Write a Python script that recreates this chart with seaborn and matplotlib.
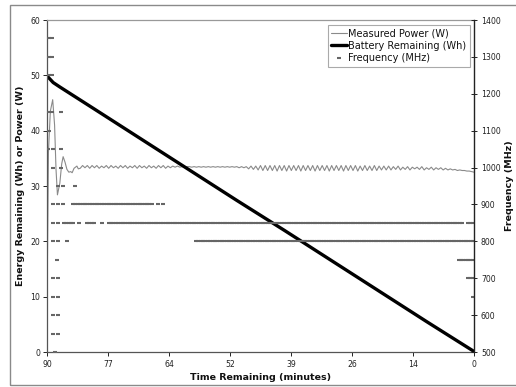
import numpy as np
import pandas as pd
import matplotlib
matplotlib.use("Agg")
import matplotlib.pyplot as plt
import seaborn as sns
from matplotlib.patches import Rectangle
from matplotlib.lines import Line2D

# ---------------- data ----------------
x_tick_labels = ["90", "77", "64", "52", "39", "26", "14", "0"]

battery_time = [90.0, 88.7, 87.3, 80.0, 70.0, 60.0, 50.0, 40.0, 30.0, 20.0, 10.0, 5.0, 0.0]
battery_wh = [49.9, 48.7, 47.9, 43.9, 38.4, 32.9, 27.4, 22.0, 16.5, 11.0, 5.5, 2.8, 0.1]

power_early_time = [90.0, 89.7, 89.3, 88.8, 88.4, 88.1, 87.8, 87.3, 86.9, 86.6,
                    86.2, 85.8, 85.4, 85.0, 84.7, 84.3, 83.7, 83.4]
power_early_w = [8.0, 36.0, 43.5, 45.6, 41.0, 33.0, 28.4, 30.5, 34.0, 35.3,
                 34.3, 33.0, 32.5, 32.6, 32.4, 33.2, 33.6, 33.1]
power_step = 0.5          # minutes between regular samples, starting at 83.0
power_regular_w = [
    # 83.0 -> 60.5
    33.2, 33.7, 33.3, 33.7, 33.2, 33.7, 33.3, 33.7, 33.2, 33.6,
    33.3, 33.7, 33.2, 33.7, 33.3, 33.6, 33.2, 33.7, 33.3, 33.7,
    33.2, 33.6, 33.3, 33.7, 33.2, 33.7, 33.3, 33.6, 33.2, 33.7,
    33.3, 33.6, 33.2, 33.7, 33.3, 33.7, 33.2, 33.6, 33.3, 33.6,
    33.4, 33.6, 33.4, 33.5, 33.4, 33.5,
    # 60.0 -> 48.5
    33.5, 33.4, 33.5, 33.4, 33.5, 33.4, 33.5, 33.4, 33.5, 33.4, 33.5, 33.4,
    33.5, 33.4, 33.5, 33.4, 33.5, 33.4, 33.5, 33.4, 33.5, 33.3, 33.5, 33.3,
    # 48.0 -> 7.5
    33.5, 33.1, 33.6, 33.0, 33.6, 32.9, 33.7, 32.8, 33.7, 32.8,
    33.7, 32.8, 33.7, 32.7, 33.7, 32.8, 33.7, 32.7, 33.7, 32.8,
    33.7, 32.8, 33.7, 32.7, 33.7, 32.8, 33.7, 32.8, 33.7, 32.7,
    33.7, 32.8, 33.7, 32.8, 33.7, 32.7, 33.7, 32.8, 33.7, 32.8,
    33.7, 32.7, 33.7, 32.8, 33.7, 32.8, 33.7, 32.7, 33.6, 32.8,
    33.7, 32.8, 33.6, 32.8, 33.7, 32.8, 33.6, 32.9, 33.6, 32.9,
    33.6, 32.9, 33.5, 33.0, 33.6, 32.9, 33.4, 33.0, 33.5, 32.9,
    33.4, 33.1, 33.4, 33.0, 33.5, 32.9, 33.3, 33.0, 33.4, 32.9,
    33.3, 33.0,
    # 7.0 -> 0.0
    33.3, 32.9, 33.2, 32.9, 33.1, 32.9, 33.0, 32.8, 32.9, 32.8,
    32.8, 32.7, 32.7, 32.6, 32.5,
]

# frequency samples, read as runs: (level MHz, run start min, run end min)
freq_level = [1350, 1350, 1300, 1300, 1250, 1250, 1150, 1150, 1150, 1100,
              1050, 1050, 1050, 1000, 1000, 950, 950, 950,
              900, 900, 900, 900, 900, 900,
              850, 850, 850, 850, 850, 850, 850, 850,
              800, 800, 800, 800,
              750, 750, 700, 700, 700, 650, 650, 650, 600, 600, 550, 550, 500]
freq_start = [89.6, 89.0, 89.6, 89.0, 89.6, 89.0, 89.6, 89.0, 87.0, 89.6,
              89.8, 88.7, 87.0, 88.7, 87.0, 87.7, 86.6, 84.1,
              88.7, 87.7, 86.6, 84.5, 66.7, 65.5,
              88.7, 87.7, 86.4, 83.3, 81.6, 78.5, 77.0, 1.3,
              88.7, 87.7, 85.8, 58.6,
              87.9, 3.2, 88.7, 87.7, 1.3, 88.7, 87.7, 0.3, 88.7, 87.7, 88.7, 87.7, 88.4]
freq_end = [89.6, 89.0, 89.6, 89.0, 89.6, 89.0, 89.6, 89.0, 87.0, 89.6,
            89.8, 88.7, 87.0, 88.7, 87.0, 87.7, 86.6, 84.1,
            88.7, 87.7, 86.6, 67.9, 66.7, 65.5,
            88.7, 87.7, 84.5, 83.3, 80.0, 78.5, 2.5, 0.3,
            88.7, 87.7, 85.8, 0.2,
            87.9, 0.3, 88.7, 87.7, 0.3, 88.7, 87.7, 0.3, 88.7, 87.7, 88.7, 87.7, 88.4]
freq_sample_step = 0.5

# ---------------- tables ----------------
power_regular_time = [83.0 - i * power_step for i in range(len(power_regular_w))]
power_df = pd.DataFrame({"t": power_early_time + power_regular_time,
                         "w": power_early_w + power_regular_w})
battery_df = pd.DataFrame({"t": battery_time, "wh": battery_wh})

ft, ff = [], []
for lvl, s, e in zip(freq_level, freq_start, freq_end):
    n = int(round((s - e) / freq_sample_step)) + 1
    ts = np.linspace(s, e, n)
    ft.extend(ts)
    ff.extend([lvl] * n)
freq_df = pd.DataFrame({"t": ft, "mhz": ff})

# ---------------- style ----------------
sns.set_theme(style="ticks")
plt.rcParams['font.family'] = ['DejaVu Sans']

W, H = 516, 387
fig = plt.figure(figsize=(W / 100, H / 100), dpi=100)
fig.patch.set_facecolor("white")

L, R, T, B = 47, 474, 20, 352
ax = fig.add_axes([L / W, 1 - B / H, (R - L) / W, (B - T) / H])
ax.set_facecolor("white")

power_color = "#8a8a8a"
freq_color = "#666666"

sns.lineplot(data=power_df, x="t", y="w", ax=ax, color=power_color, lw=0.8,
             sort=False, estimator=None)
sns.lineplot(data=battery_df, x="t", y="wh", ax=ax, color="black", lw=2.4,
             sort=False, estimator=None)

ax.set_xlim(90, 0)
ax.set_ylim(0, 60)
ax.set_xticks([90 - 90 * k / 7 for k in range(8)])
ax.set_xticklabels(x_tick_labels)
ax.set_yticks(range(0, 61, 10))

ax2 = ax.twinx()
sns.scatterplot(data=freq_df, x="t", y="mhz", ax=ax2, marker="_", s=9,
                linewidth=1.5, color=freq_color, edgecolor=freq_color)
ax2.set_ylim(500, 1400)
ax2.set_yticks(range(500, 1401, 100))
ax2.set_xlim(90, 0)

for a in (ax, ax2):
    for sp in a.spines.values():
        sp.set_visible(False)
ax.spines["left"].set_visible(True)
ax.spines["bottom"].set_visible(True)
ax.spines["top"].set_visible(True)
ax.spines["left"].set_color("#555555")
ax.spines["bottom"].set_color("#555555")
ax.spines["top"].set_color("#999999")
ax2.spines["right"].set_visible(True)
ax2.spines["right"].set_color("#222222")
for sp in ("left", "bottom", "top"):
    ax.spines[sp].set_linewidth(0.9)
ax2.spines["right"].set_linewidth(1.0)

ax.tick_params(axis="both", which="major", direction="out", length=3, width=0.7,
               labelsize=5.6, pad=2, colors="#222222")
ax.tick_params(axis="x", pad=2.5)
ax2.tick_params(axis="y", direction="inout", length=4, width=0.7,
                labelsize=5.6, pad=3, colors="#222222")
ax2.tick_params(axis="x", bottom=False, top=False)

lab_kw = dict(fontsize=6.8, fontweight="bold", color="#111111")
ax.set_xlabel("Time Remaining (minutes)", **lab_kw)
ax.set_ylabel("Energy Remaining (Wh) or Power (W)", **lab_kw)
ax2.set_ylabel("Frequency (MHz)", **lab_kw)
ax.xaxis.set_label_coords(0.5, (B - 373) / (B - T))
ax.yaxis.set_label_coords((25 - L) / (R - L), 0.5)
ax2.yaxis.set_label_coords((505 - L) / (R - L), 0.5)

handles = [
    Line2D([], [], color=power_color, lw=0.8),
    Line2D([], [], color="black", lw=2.4),
    Line2D([], [], color=freq_color, marker="_", ms=3, mew=1.5, ls=""),
]
labels = ["Measured Power (W)", "Battery Remaining (Wh)", "Frequency (MHz)"]
leg = ax2.legend(handles, labels, loc="upper right",
                 bbox_to_anchor=((470 - L) / (R - L), (B - 25) / (B - T)),
                 borderaxespad=0, fontsize=7, frameon=True, fancybox=False,
                 framealpha=1, edgecolor="#aaaaaa", handlelength=1.6,
                 handletextpad=0.15, labelspacing=0.25, borderpad=0.35)
leg.get_frame().set_linewidth(0.8)
for txt in leg.get_texts():
    txt.set_color("#111111")

# outer chart frame
fig.patches.append(Rectangle((10 / W, 1 - 385 / H), 1.2, (385 - 5) / H,
                             transform=fig.transFigure, fill=False,
                             edgecolor="#8a8a8a", lw=1.0))

fig.savefig("out.png", dpi=100, facecolor="white")
